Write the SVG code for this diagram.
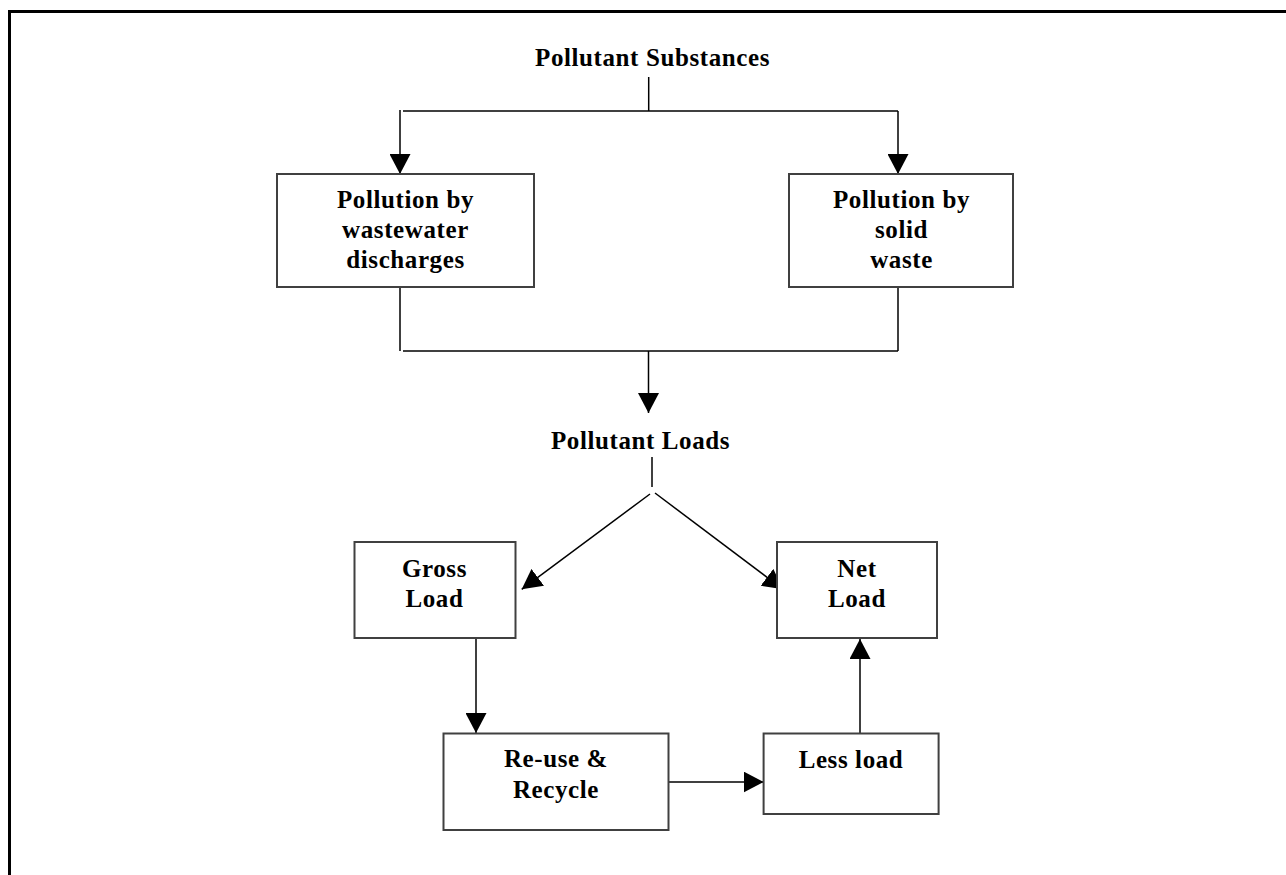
<svg xmlns="http://www.w3.org/2000/svg" width="1286" height="875" viewBox="0 0 1286 875">
<style>
.box{fill:#fff;stroke:#404040;stroke-width:2}
.t{font-family:"Liberation Serif","Times New Roman",serif;font-weight:bold;font-size:25px;letter-spacing:0.6px;text-anchor:middle;fill:#000}
.c{fill:none;stroke:#000;stroke-width:1.5}
.frame{fill:none;stroke:#000;stroke-width:3}
</style>
<defs>
<marker id="ah" markerWidth="20" markerHeight="21" refX="20" refY="10.5" orient="auto" markerUnits="userSpaceOnUse">
<path d="M0,0 L20,10.5 L0,21 z" fill="#000"/>
</marker>
</defs>
<rect width="1286" height="875" fill="#fff"/>
<path class="frame" d="M9.5,875 L9.5,11.5 L1286,11.5"/>

<g id="connectors">
<line class="c" x1="648.7" y1="77" x2="648.7" y2="111"/>
<line class="c" x1="403" y1="111" x2="898" y2="111"/>
<line class="c" x1="400" y1="110" x2="400" y2="174" marker-end="url(#ah)"/>
<line class="c" x1="898" y1="111" x2="898" y2="174" marker-end="url(#ah)"/>
<line class="c" x1="400" y1="287" x2="400" y2="351"/>
<line class="c" x1="403" y1="351" x2="898" y2="351"/>
<line class="c" x1="898" y1="287" x2="898" y2="351"/>
<line class="c" x1="648.5" y1="351" x2="648.5" y2="413" marker-end="url(#ah)"/>
<line class="c" x1="652" y1="457" x2="652" y2="487"/>
<line class="c" x1="650" y1="494" x2="521.7" y2="589.3" marker-end="url(#ah)"/>
<line class="c" x1="655" y1="493" x2="783" y2="589.3" marker-end="url(#ah)"/>
<line class="c" x1="476" y1="638" x2="476" y2="733" marker-end="url(#ah)"/>
<line class="c" x1="667" y1="782" x2="763.6" y2="782" marker-end="url(#ah)"/>
<line class="c" x1="860" y1="733" x2="860" y2="639" marker-end="url(#ah)"/>
</g>

<g id="pollutant-substances">
<text class="t" x="652.5" y="66">Pollutant Substances</text>
</g>

<g id="wastewater">
<rect class="box" x="277" y="174" width="257" height="113"/>
<text class="t" x="405.5" y="208">Pollution by</text>
<text class="t" x="405.5" y="238">wastewater</text>
<text class="t" x="405.5" y="268">discharges</text>
</g>

<g id="solid-waste">
<rect class="box" x="789" y="174" width="224" height="113"/>
<text class="t" x="901.5" y="208">Pollution by</text>
<text class="t" x="901.5" y="238">solid</text>
<text class="t" x="901.5" y="268">waste</text>
</g>

<g id="pollutant-loads">
<text class="t" x="640.5" y="449">Pollutant Loads</text>
</g>

<g id="gross-load">
<rect class="box" x="354.5" y="542" width="161" height="96"/>
<text class="t" x="434.5" y="577">Gross</text>
<text class="t" x="434.5" y="607">Load</text>
</g>

<g id="net-load">
<rect class="box" x="777" y="542" width="160" height="96"/>
<text class="t" x="857" y="577">Net</text>
<text class="t" x="857" y="607">Load</text>
</g>

<g id="reuse-recycle">
<rect class="box" x="443.5" y="733.5" width="225" height="96.5"/>
<text class="t" x="556" y="767">Re-use &amp;</text>
<text class="t" x="556" y="798">Recycle</text>
</g>

<g id="less-load">
<rect class="box" x="763.6" y="733.5" width="175" height="80.5"/>
<text class="t" x="851" y="768">Less load</text>
</g>
</svg>
